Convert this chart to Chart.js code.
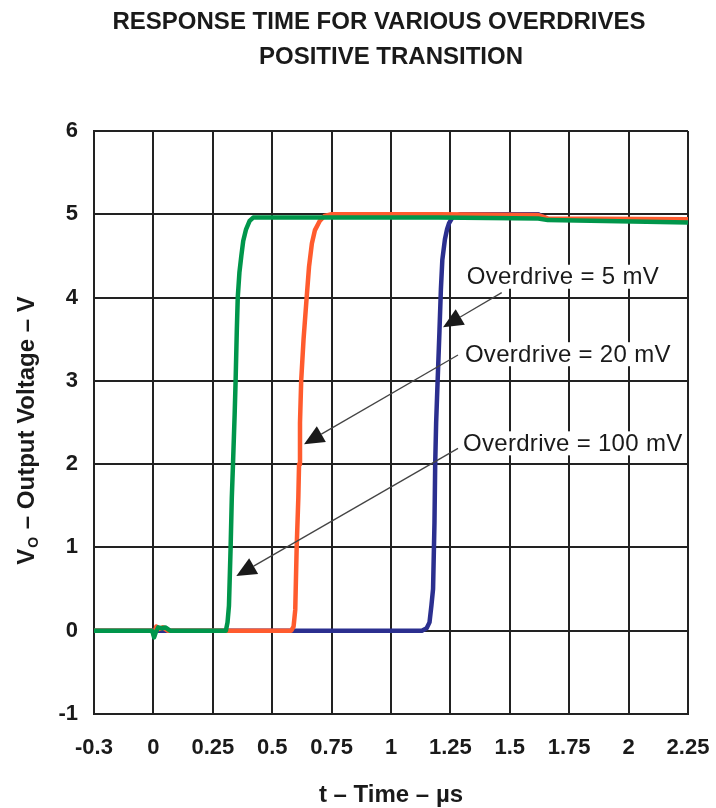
<!DOCTYPE html>
<html>
<head>
<meta charset="utf-8">
<script src="https://cdn.jsdelivr.net/npm/chart.js@4.4.0/dist/chart.umd.min.js"></script>
<style>
  html, body { margin: 0; padding: 0; background: #fff; }
  canvas { display: block; }
</style>
</head>
<body>
<canvas id="chart" width="716" height="808" style="width:716px;height:808px"></canvas>
<script>
/* ── Dati ───────────────────────────────────────────── */
var titleLines = ['RESPONSE TIME FOR VARIOUS OVERDRIVES', 'POSITIVE TRANSITION'];
var xTitle = 't \u2013 Time \u2013 \u00b5s';
var yTitle = ['V', 'O', ' \u2013 Output Voltage \u2013 V'];

// Overdrive = 100 mV (verde)
var t100 = [-0.25, -0.005, 0.003, 0.01, 0.02, 0.035, 0.05, 0.07, 0.305, 0.312, 0.318, 0.325, 0.33, 0.335, 0.342, 0.346, 0.351, 0.355, 0.362, 0.37, 0.378, 0.39, 0.405, 0.42, 0.44, 0.8, 1.2, 1.62, 1.66, 1.9, 2.25];
var v100 = [0, 0, -0.08, -0.02, 0.04, 0.03, 0.04, 0, 0, 0.1, 0.3, 1.0, 1.6, 2.0, 2.6, 3.0, 3.6, 4.0, 4.3, 4.5, 4.68, 4.82, 4.92, 4.96, 4.96, 4.96, 4.96, 4.95, 4.93, 4.92, 4.9];

// Overdrive = 20 mV (arancio)
var t20 = [-0.25, -0.005, 0.003, 0.012, 0.025, 0.04, 0.06, 0.58, 0.59, 0.597, 0.603, 0.61, 0.613, 0.617, 0.622, 0.632, 0.645, 0.655, 0.667, 0.68, 0.70, 0.72, 0.75, 1.2, 1.62, 1.66, 2.25];
var v20 = [0, 0, -0.06, 0.05, 0.02, 0.04, 0, 0, 0.05, 0.25, 1.0, 1.6, 2.0, 2.5, 3.0, 3.5, 4.0, 4.37, 4.65, 4.81, 4.92, 4.98, 5.0, 5.0, 4.99, 4.95, 4.94];

// Overdrive = 5 mV (blu)
var t5 = [-0.25, 1.13, 1.15, 1.162, 1.17, 1.177, 1.183, 1.186, 1.19, 1.195, 1.204, 1.21, 1.216, 1.227, 1.236, 1.244, 1.26, 1.29, 1.62, 1.66, 2.25];
var v5 = [0, 0, 0.03, 0.1, 0.3, 0.5, 1.3, 2.0, 2.5, 2.9, 3.6, 4.1, 4.45, 4.7, 4.82, 4.89, 4.97, 5.0, 5.0, 4.94, 4.93];

// Etichette con freccia (unità dati: t, V)
var noteText = ['Overdrive = 5 mV', 'Overdrive = 20 mV', 'Overdrive = 100 mV'];
var noteAt   = [[1.319, 4.25], [1.311, 3.32], [1.303, 2.25]];
var noteFrom = [[1.466, 4.06], [1.282, 3.31], [1.282, 2.19]];
var noteTip  = [[1.219, 3.645], [0.634, 2.24], [0.349, 0.656]];

function pts(ts, vs) {
  return ts.map(function(t, i) { return { x: t, y: vs[i] }; });
}

var FONT = '"Liberation Sans", Arial, Helvetica, sans-serif';
var INK = '#1a1a1a';

/* ── Plugin: sfondo, note, titoli ─────────────────── */
var decor = {
  id: 'decor',
  beforeDraw: function(chart) {
    var ctx = chart.ctx;
    ctx.save();
    ctx.fillStyle = '#fff';
    ctx.fillRect(0, 0, chart.width, chart.height);
    ctx.restore();
  },
  afterDatasetsDraw: function(chart) {
    var ctx = chart.ctx, xs = chart.scales.x, ys = chart.scales.y;
    ctx.save();
    for (var i = 0; i < noteText.length; i++) {
      // linea + punta
      var x0 = xs.getPixelForValue(noteFrom[i][0]), y0 = ys.getPixelForValue(noteFrom[i][1]);
      var x1 = xs.getPixelForValue(noteTip[i][0]),  y1 = ys.getPixelForValue(noteTip[i][1]);
      var dx = x1 - x0, dy = y1 - y0, len = Math.sqrt(dx * dx + dy * dy);
      var ux = dx / len, uy = dy / len, L = 20, W = 9;
      ctx.strokeStyle = '#444';
      ctx.lineWidth = 1.3;
      ctx.beginPath();
      ctx.moveTo(x0, y0);
      ctx.lineTo(x1 - ux * L, y1 - uy * L);
      ctx.stroke();
      ctx.fillStyle = '#1a1a1a';
      ctx.beginPath();
      ctx.moveTo(x1, y1);
      ctx.lineTo(x1 - ux * L - uy * W, y1 - uy * L + ux * W);
      ctx.lineTo(x1 - ux * L + uy * W, y1 - uy * L - ux * W);
      ctx.closePath();
      ctx.fill();

      // testo su fondo bianco
      var tx = xs.getPixelForValue(noteAt[i][0]), ty = ys.getPixelForValue(noteAt[i][1]);
      ctx.font = '24px ' + FONT;
      ctx.letterSpacing = '0.3px';
      var w = ctx.measureText(noteText[i]).width;
      ctx.fillStyle = '#fff';
      ctx.fillRect(tx - 2, ty - 12, Math.min(w + 4, chart.chartArea.right - 2 - (tx - 2)), 24);
      ctx.fillStyle = INK;
      ctx.textAlign = 'left';
      ctx.textBaseline = 'middle';
      ctx.fillText(noteText[i], tx, ty + 1);
    }
    ctx.restore();
  },
  afterDraw: function(chart) {
    var ctx = chart.ctx, ca = chart.chartArea;
    var cx = (ca.left + ca.right) / 2;
    ctx.save();
    ctx.fillStyle = INK;
    ctx.textBaseline = 'middle';
    ctx.textAlign = 'center';
    ctx.font = 'bold 24px ' + FONT;
    ctx.fillText(titleLines[0], cx - 12, 22);
    ctx.fillText(titleLines[1], cx, 57);

    ctx.fillText(xTitle, cx, 795);

    // titolo asse Y ruotato, con pedice
    ctx.translate(27, (ca.top + ca.bottom) / 2 + 8);
    ctx.rotate(-Math.PI / 2);
    var fBig = 'bold 24px ' + FONT, fSmall = 'bold 14px ' + FONT;
    ctx.font = fBig;  var w1 = ctx.measureText(yTitle[0]).width;
    ctx.font = fSmall; var w2 = ctx.measureText(yTitle[1]).width;
    ctx.font = fBig;  var w3 = ctx.measureText(yTitle[2]).width;
    var sx = -(w1 + w2 + 2 + w3) / 2;
    ctx.textAlign = 'left';
    ctx.fillText(yTitle[0], sx, 0);
    ctx.font = fSmall;
    ctx.fillText(yTitle[1], sx + w1 + 1, 7);
    ctx.font = fBig;
    ctx.fillText(yTitle[2], sx + w1 + w2 + 2, 0);
    ctx.restore();
  }
};

new Chart(document.getElementById('chart'), {
  type: 'line',
  data: {
    datasets: [
      { label: 'Overdrive = 100 mV', data: pts(t100, v100), borderColor: '#00964b' },
      { label: 'Overdrive = 20 mV',  data: pts(t20, v20),   borderColor: '#ff5b2e' },
      { label: 'Overdrive = 5 mV',   data: pts(t5, v5),     borderColor: '#2b2f8f' }
    ]
  },
  options: {
    responsive: false,
    animation: false,
    devicePixelRatio: 1,
    layout: { padding: { top: 131, right: 28, left: 0, bottom: 0 } },
    elements: {
      line:  { borderWidth: 4.5, tension: 0, borderCapStyle: 'round', borderJoinStyle: 'round', fill: false },
      point: { radius: 0, hoverRadius: 0 }
    },
    plugins: { legend: { display: false }, tooltip: { enabled: false }, title: { display: false } },
    scales: {
      x: {
        type: 'linear',
        min: -0.25, max: 2.25,
        afterFit: function(s) { s.height = 94; s.paddingLeft = 0; s.paddingRight = 0; },
        grid:   { color: '#222', lineWidth: 2, drawTicks: false },
        border: { color: '#222', width: 2 },
        ticks: {
          stepSize: 0.25,
          padding: 21,
          maxRotation: 0,
          autoSkip: false,
          color: INK,
          font: { family: FONT, size: 22, weight: 'bold' },
          callback: function(v) { return v === -0.25 ? '-0.3' : String(v); }
        }
      },
      y: {
        min: -1, max: 6,
        afterFit: function(s) { s.width = 94; s.paddingTop = 0; s.paddingBottom = 0; },
        grid:   { color: '#222', lineWidth: 2, drawTicks: false },
        border: { color: '#222', width: 2 },
        ticks: {
          stepSize: 1,
          padding: 16,
          color: INK,
          font: { family: FONT, size: 22, weight: 'bold' }
        }
      }
    }
  },
  plugins: [decor]
});
</script>
</body>
</html>
